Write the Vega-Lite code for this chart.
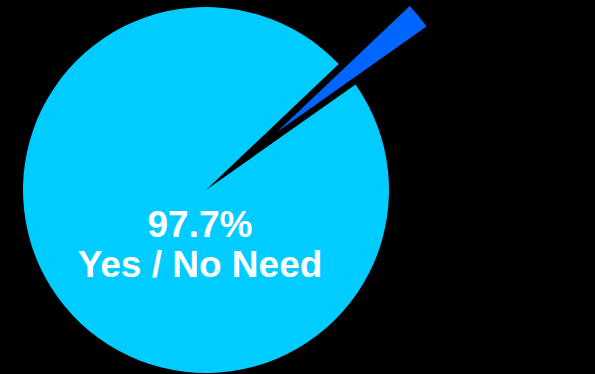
{
  "$schema": "https://vega.github.io/schema/vega-lite/v6.json",
  "width": 412,
  "height": 368,
  "autosize": {"type": "none"},
  "padding": {"left": 0, "top": 6, "right": 183, "bottom": 0},
  "background": "#000000",
  "config": {"view": {"stroke": null}},
  "data": {
    "values": [
      {"category": "No", "order": 1, "share": 2.3},
      {"category": "Yes / No Need", "order": 2, "share": 97.7}
    ]
  },
  "layer": [
    {
      "mark": {"type": "arc", "outerRadius": 183},
      "encoding": {
        "theta": {"field": "share", "type": "quantitative", "stack": true, "scale": {"range": [0.8116, 7.0948]}},
        "order": {"field": "order", "type": "quantitative"},
        "color": {"field": "category", "type": "nominal", "legend": null, "scale": {"domain": ["No", "Yes / No Need"], "range": ["#0066FF", "#00CCFF"]}},
        "opacity": {"condition": {"test": "datum.category === 'No'", "value": 0}, "value": 1}
      }
    },
    {
      "mark": {"type": "arc", "outerRadius": 183, "xOffset": 71, "yOffset": -58},
      "encoding": {
        "theta": {"field": "share", "type": "quantitative", "stack": true, "scale": {"range": [0.8116, 7.0948]}},
        "order": {"field": "order", "type": "quantitative"},
        "color": {"field": "category", "type": "nominal", "legend": null, "scale": {"domain": ["No", "Yes / No Need"], "range": ["#0066FF", "#00CCFF"]}},
        "opacity": {"condition": {"test": "datum.category === 'No'", "value": 1}, "value": 0}
      }
    },
    {
      "transform": [{"filter": "datum.category === 'Yes / No Need'"}],
      "mark": {"type": "text", "font": "Liberation Sans", "fontWeight": "bold", "fontSize": 37, "color": "#FFFFFF", "align": "center", "baseline": "alphabetic", "lineHeight": 40, "dx": -6, "dy": 47},
      "encoding": {
        "text": {"value": ["97.7%", "Yes / No Need"]}
      }
    }
  ]
}
